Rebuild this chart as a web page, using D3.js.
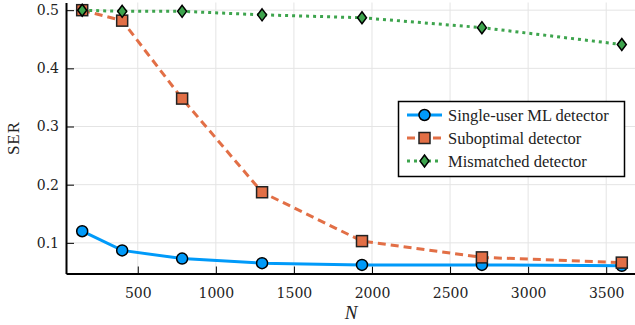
<!DOCTYPE html>
<html>
<head>
<meta charset="utf-8">
<script src="https://cdn.jsdelivr.net/npm/d3@7"></script>
<style>
  body { margin: 0; background: #fff; }
  svg { display: block; font-family: "Liberation Serif", serif; }
</style>
</head>
<body>
<div id="chart"></div>
<script>
const width = 635;
const height = 325;

// data
const nValues = [144, 400, 784, 1296, 1936, 2704, 3600];
const singleUser = [0.120, 0.087, 0.073, 0.065, 0.062, 0.062, 0.0605];
const suboptimal = [0.500, 0.482, 0.348, 0.187, 0.103, 0.075, 0.066];
const mismatched = [0.500, 0.498, 0.498, 0.492, 0.487, 0.470, 0.441];
const seriesNames = ["Single-user ML detector", "Suboptimal detector", "Mismatched detector"];
const xTicks = [500, 1000, 1500, 2000, 2500, 3000, 3500];
const yTicks = [0.1, 0.2, 0.3, 0.4, 0.5];

const plotLeft = 66, plotRight = 638, plotTop = 2.5, plotBottom = 273.5;

const svg = d3
  .select("#chart")
  .append("svg")
  .attr("width", width)
  .attr("height", height);

let xScale = d3.scaleLinear().domain([40.3, 3703.7]).range([plotLeft, plotRight]);
let yScale = d3.scaleLinear().domain([0.0473, 0.5132]).range([plotBottom, plotTop]);

//grid
svg.append("g")
  .selectAll("line")
  .data(xTicks)
  .enter()
  .append("line")
  .attr("x1", (d) => xScale(d)).attr("x2", (d) => xScale(d))
  .attr("y1", plotTop).attr("y2", plotBottom)
  .style("stroke", "#e4e4e4").style("stroke-width", 1);

svg.append("g")
  .selectAll("line")
  .data(yTicks)
  .enter()
  .append("line")
  .attr("x1", plotLeft).attr("x2", plotRight)
  .attr("y1", (d) => yScale(d)).attr("y2", (d) => yScale(d))
  .style("stroke", "#e4e4e4").style("stroke-width", 1);

// axes, ticks point inwards
let xAxis = d3.axisBottom(xScale).tickValues(xTicks).tickSizeInner(-7).tickSizeOuter(0).tickPadding(15).tickFormat(d3.format("d"));
let yAxis = d3.axisLeft(yScale).tickValues(yTicks).tickSizeInner(-8).tickSizeOuter(0).tickPadding(14).tickFormat(d3.format(".1f"));

const gx = svg.append("g")
  .attr("transform", "translate(0," + plotBottom + ")")
  .call(xAxis);
const gy = svg.append("g")
  .attr("transform", "translate(" + plotLeft + ",0)")
  .call(yAxis);

[gx, gy].forEach((g) => {
  g.attr("font-family", null);
  g.select(".domain").style("stroke", "#000").style("stroke-width", 2);
  g.selectAll(".tick line").style("stroke", "#000").style("stroke-width", 1);
  g.selectAll(".tick text")
    .style("font-family", "DejaVu Serif")
    .style("font-size", "14px")
    .style("fill", "#222");
});
gy.selectAll(".tick text").attr("x", -7);

svg.append("text")
  .attr("transform", "translate(19," + (plotTop + plotBottom) / 2 + ") rotate(-90)")
  .attr("text-anchor", "middle")
  .style("font-size", "17px")
  .style("letter-spacing", "1px")
  .style("fill", "#222")
  .text("SER");

svg.append("text")
  .attr("x", 351)
  .attr("y", 319)
  .attr("text-anchor", "middle")
  .style("font-size", "19px")
  .style("font-style", "italic")
  .style("fill", "#222")
  .text("N");

const colors = ["#009af9", "#e26f46", "#3da44d"];
const dashes = [null, "8,5", "3,4"];
const shapes = ["circle", "square", "diamond"];
const allSeries = [singleUser, suboptimal, mismatched];

const drawMarker = (g, shape, x, y, color) => {
  let m;
  if (shape == "circle") {
    m = g.append("circle").attr("cx", x).attr("cy", y).attr("r", 5.5);
  } else if (shape == "square") {
    m = g.append("rect").attr("x", x - 5.5).attr("y", y - 5.5).attr("width", 11).attr("height", 11);
  } else {
    m = g.append("path").attr("d", "M" + x + "," + (y - 6) + "L" + (x + 4.5) + "," + y + "L" + x + "," + (y + 6) + "L" + (x - 4.5) + "," + y + "Z");
  }
  m.style("fill", color).style("stroke", shape == "square" ? "#222" : "#000").style("stroke-width", 1.5);
};

const line = d3.line()
  .x((d, i) => xScale(nValues[i]))
  .y((d) => yScale(d));

allSeries.forEach((values, k) => {
  svg.append("path")
    .attr("d", line(values))
    .style("fill", "none")
    .style("stroke", colors[k])
    .style("stroke-width", 3)
    .style("stroke-dasharray", dashes[k]);
  const g = svg.append("g");
  values.forEach((v, i) => drawMarker(g, shapes[k], xScale(nValues[i]), yScale(v), colors[k]));
});

//legend
const legend = svg.append("g");
legend.append("rect")
  .attr("x", 398.5).attr("y", 101.5)
  .attr("width", 226).attr("height", 75)
  .style("fill", "#fff").style("stroke", "#000").style("stroke-width", 1.5);

seriesNames.forEach((name, k) => {
  let y = 115 + k * 23;
  legend.append("line")
    .attr("x1", 407).attr("x2", 442)
    .attr("y1", y).attr("y2", y)
    .style("stroke", colors[k])
    .style("stroke-width", 3)
    .style("stroke-dasharray", dashes[k]);
  drawMarker(legend, shapes[k], 424.5, y, colors[k]);
  legend.append("text")
    .attr("x", 448)
    .attr("y", y)
    .attr("dy", "0.35em")
    .style("font-size", "16.5px")
    .style("fill", "#222")
    .text(name);
});
</script>
</body>
</html>
